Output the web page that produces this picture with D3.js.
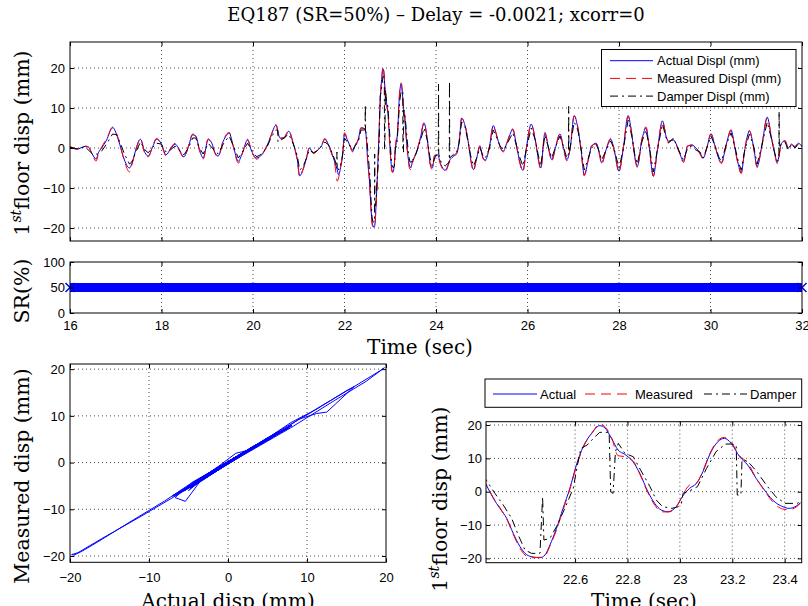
<!DOCTYPE html>
<html>
<head>
<meta charset="utf-8">
<script src="https://cdn.jsdelivr.net/npm/d3@7"></script>
<style>
  body { margin: 0; background: #fff; }
  svg { display: block; }
</style>
</head>
<body>
<div id="chart"></div>
<script>
// time (s) of the readings for the actual and measured displacement (mm)
const timeSec = [
  16.00, 16.15, 16.33, 16.40, 16.51, 16.57, 16.62, 16.69, 16.80, 16.93,
  17.02, 17.09, 17.19, 17.30, 17.35, 17.44, 17.54, 17.64, 17.71, 17.81,
  17.89, 17.99, 18.10, 18.19, 18.30, 18.37, 18.49, 18.59, 18.68, 18.75,
  18.83, 18.91, 19.02, 19.10, 19.17, 19.24, 19.35, 19.48, 19.57, 19.68,
  19.77, 19.88, 19.97, 20.08, 20.19, 20.30, 20.39, 20.50, 20.59, 20.68,
  20.78, 20.88, 20.97, 21.02, 21.09, 21.17, 21.23, 21.32, 21.43, 21.50,
  21.57, 21.65, 21.72, 21.79, 21.84, 21.87, 21.92, 21.96, 22.00, 22.06,
  22.12, 22.18, 22.23, 22.30, 22.36, 22.45, 22.48, 22.50, 22.52, 22.545,
  22.566, 22.587, 22.603, 22.624, 22.65, 22.666, 22.682, 22.703, 22.725, 22.746,
  22.767, 22.788, 22.815, 22.84, 22.857, 22.878, 22.90, 22.92, 22.947, 22.968,
  22.995, 23.016, 23.037, 23.058, 23.085, 23.106, 23.127, 23.148, 23.17, 23.19,
  23.217, 23.238, 23.26, 23.286, 23.313, 23.34, 23.366, 23.392, 23.424, 23.445,
  23.466, 23.50, 23.56, 23.65, 23.74, 23.82, 23.87, 23.92, 23.97, 24.03,
  24.11, 24.20, 24.31, 24.39, 24.45, 24.51, 24.56, 24.63, 24.71, 24.76,
  24.82, 24.89, 24.96, 25.03, 25.08, 25.17, 25.25, 25.33, 25.40, 25.47,
  25.55, 25.68, 25.75, 25.82, 25.90, 25.98, 26.08, 26.17, 26.24, 26.29,
  26.38, 26.46, 26.53, 26.62, 26.71, 26.78, 26.86, 26.93, 27.02, 27.10,
  27.17, 27.24, 27.33, 27.40, 27.50, 27.57, 27.62, 27.72, 27.82, 27.90,
  28.00, 28.09, 28.20, 28.28, 28.35, 28.40, 28.50, 28.59, 28.66, 28.75,
  28.84, 28.95, 29.03, 29.08, 29.19, 29.30, 29.41, 29.50, 29.59, 29.68,
  29.77, 29.84, 29.92, 30.01, 30.10, 30.19, 30.24, 30.35, 30.45, 30.54,
  30.61, 30.67, 30.75, 30.85, 30.94, 31.02, 31.12, 31.24, 31.34, 31.41,
  31.46, 31.55, 31.63, 31.70, 31.77, 31.85, 31.92, 32.00
]

const actualDispl = [
  0.3, -0.3, 0.4, 0.2, -2, -2.8, -1.2, 0, 2, 5.2,
  3.3, 0.8, -3, -5, -4, -0.4, 2.2, -1.2, -2, 0.4,
  2.2, 1.2, -1.7, -0.4, 1, 0, -2.2, 0.4, 3.3, 3,
  -0.4, -2.5, 2.1, 1.2, -1.2, -2, 1.7, 3.7, 0.4, -3.3,
  -1.2, 2, -0.8, -2.5, -1.7, 0.4, 2.9, 5.7, 2.5, 2.5,
  4.2, 1.2, -3, -7, -5.4, -2.5, 0, -1.2, -0.4, 0.6,
  2.2, 0.8, -1.2, -3.6, -5.4, -6.7, -4.6, -1.7, 3.6, 2.1,
  0.6, -0.8, 0.6, 2, 5, 4.6, 2, -2, -5, -8,
  -12.5, -16.5, -18.5, -19.5, -19.8, -19, -16, -11, -5, 1,
  8, 13.5, 17.5, 19.8, 19.2, 16, 12.5, 11.2, 9, 5.5,
  0, -3.5, -5.5, -6, -4.5, -1.2, 1, 2.5, 6, 11,
  15, 16, 14.5, 10.5, 8, 4, 0.5, -2.5, -4.5, -5,
  -4.3, -3, -1.5, 2, 6.2, 1.2, -3.7, -5, -2, -1.7,
  -4.2, -5.6, -2.9, -2, -1.5, 2, 7.5, 5.8, 1.2, -2.9,
  -5.4, -2.5, 0.4, -2.5, -3, 0.4, 5.6, 2.9, 0.4, -0.8,
  1.2, 4.6, 1.2, -2.9, -5.6, 0.4, 6, 2, -2.9, -5,
  3.7, 0, -2.9, 0.4, 3.5, 0.4, -2.9, -0.4, 8.1, 5,
  -0.4, -6.7, -2.9, 0.4, 1.2, -1.2, -3.7, -0.4, 2.2, -0.8,
  -5.8, -0.4, 8.1, 3.3, -2.5, -4.6, 2, 5, 0.4, -7,
  -0.4, 6.8, 2.9, 1.7, 2, -0.4, -3.3, 0.4, 0.8, 0,
  -1.2, -2.5, 0, 3.6, 0.4, -2.9, -3.6, 1.2, 4.4, -0.4,
  -4.2, -6.2, -0.4, 4.2, 0.4, -4.6, 0.4, 7.7, 2, -1.7,
  -3.6, 1.2, 1.7, 0, 0.8, 0.4, 1.2, 0.3
]

const measuredDispl = [
  0.4, -0.2, 0.5, 0.3, -2.3, -3.3, -1.5, 0.2, 2.3, 5.0,
  3.6, 0.9, -3.3, -6, -4.3, -0.3, 2.3, -1.6, -2.2, 0.6,
  2.4, 1.0, -2.0, -0.2, 1.2, -0.2, -2.4, 0.5, 3.5, 2.8,
  -0.6, -2.8, 2.3, 1.0, -1.4, -2.2, 1.9, 3.9, 0.3, -3.8,
  -1.3, 2.2, -0.9, -2.8, -1.8, 0.6, 3.0, 5.9, 2.3, 2.7,
  4.3, 1.0, -3.3, -7.2, -5.6, -2.4, 0.1, -1.4, -0.3, 0.8,
  2.4, 0.6, -1.5, -4.2, -8.3, -7.5, -4.3, -1.5, 3.8, 2.2,
  0.5, -1.0, 0.7, 2.2, 5.1, 4.8, 2.2, -1.8, -4.8, -8.2,
  -12.8, -17, -19, -19.8, -19.7, -19.3, -16.3, -11.5, -5.5, 0.7,
  7.5, 13.3, 17.4, 20.3, 19.6, 16.3, 10.8, 10.5, 9.3, 5.3,
  -0.3, -4, -6, -6.1, -4.6, -0.8, 2, 2.6, 6.3, 11.2,
  15.4, 16.3, 14.8, 10.8, 8.6, 4.1, 0.3, -3, -5.2, -5.4,
  -4.6, -3.2, -1.3, 2.2, 6.4, 0.9, -4, -5.4, -1.8, -1.9,
  -4.5, -5.9, -3.1, -1.8, -1.2, 2.2, 7.3, 6.0, 1.0, -3.1,
  -5.8, -2.3, 0.6, -2.7, -3.2, 0.6, 5.4, 3.1, 0.2, -1.0,
  1.4, 4.8, 1.0, -3.2, -5.9, 0.2, 5.8, 2.2, -3.2, -5.3,
  3.9, -0.2, -3.3, 0.6, 3.7, 0.2, -3.2, -0.2, 8.0, 5.3,
  -0.6, -7.0, -2.7, 0.6, 1.0, -1.5, -4.1, -0.2, 2.4, -1.0,
  -6.1, -0.2, 7.9, 3.6, -2.7, -4.9, 2.2, 5.3, 0.2, -7.1,
  -0.6, 6.6, 3.1, 1.5, 2.2, -0.6, -3.6, 0.6, 0.6, 0.2,
  -1.5, -2.8, 0.2, 3.4, 0.6, -3.1, -3.9, 1.0, 4.6, -0.6,
  -4.4, -6.4, -0.2, 4.4, 0.2, -4.9, 0.6, 7.4, 2.3, -1.9,
  -3.9, 1.0, 1.9, -0.2, 1.0, 0.2, 1.4, 0.5
]

// damper readings have their own time stamps (spikes included)
const damperTime = [
  16.00, 16.15, 16.33, 16.51, 16.60, 16.69, 16.80, 16.93, 17.02, 17.09,
  17.19, 17.30, 17.35, 17.44, 17.54, 17.64, 17.71, 17.81, 17.89, 17.99,
  18.10, 18.19, 18.30, 18.49, 18.59, 18.68, 18.75, 18.83, 18.91, 19.02,
  19.17, 19.24, 19.35, 19.48, 19.57, 19.68, 19.77, 19.88, 19.97, 20.08,
  20.19, 20.30, 20.39, 20.50, 20.54, 20.545, 20.59, 20.68, 20.78, 20.88,
  20.97, 21.02, 21.09, 21.17, 21.23, 21.32, 21.43, 21.57, 21.65, 21.72,
  21.79, 21.83, 21.835, 21.84, 21.87, 21.92, 21.96, 22.00, 22.06, 22.12,
  22.18, 22.23, 22.30, 22.36, 22.45, 22.455, 22.46, 22.48, 22.508, 22.534,
  22.56, 22.58, 22.603, 22.624, 22.655, 22.66, 22.665, 22.682, 22.703, 22.73,
  22.756, 22.77, 22.78, 22.80, 22.82, 22.84, 22.87, 22.875, 22.882, 22.89,
  22.90, 22.92, 22.947, 22.97, 23.00, 23.02, 23.04, 23.07, 23.09, 23.10,
  23.105, 23.13, 23.15, 23.18, 23.21, 23.24, 23.26, 23.275, 23.278, 23.29,
  23.293, 23.31, 23.34, 23.37, 23.40, 23.43, 23.47, 23.48, 23.50, 23.56,
  23.65, 23.74, 23.82, 23.87, 23.92, 23.97, 24.03, 24.05, 24.055, 24.06,
  24.11, 24.20, 24.29, 24.295, 24.30, 24.39, 24.45, 24.51, 24.56, 24.63,
  24.71, 24.76, 24.82, 24.89, 24.96, 25.03, 25.08, 25.17, 25.25, 25.33,
  25.40, 25.47, 25.55, 25.68, 25.75, 25.82, 25.90, 25.98, 26.08, 26.17,
  26.24, 26.29, 26.38, 26.46, 26.53, 26.62, 26.71, 26.78, 26.86, 26.895,
  26.90, 26.905, 26.93, 27.02, 27.10, 27.17, 27.24, 27.33, 27.40, 27.50,
  27.57, 27.62, 27.72, 27.82, 27.90, 28.00, 28.09, 28.20, 28.28, 28.35,
  28.40, 28.50, 28.59, 28.66, 28.75, 28.84, 28.95, 29.03, 29.08, 29.19,
  29.30, 29.41, 29.50, 29.59, 29.68, 29.77, 29.84, 29.92, 30.01, 30.10,
  30.19, 30.24, 30.35, 30.45, 30.54, 30.61, 30.67, 30.75, 30.85, 30.94,
  31.02, 31.12, 31.24, 31.34, 31.41, 31.46, 31.495, 31.50, 31.505, 31.55,
  31.63, 31.70, 31.77, 31.85, 31.92, 32.00
]

const damperDispl = [
  0.2, -0.2, 0.3, -1.7, -1.5, -0.8, 1, 3.5, 3.3, 1.5,
  -1.5, -4, -3.5, -1, 1.5, -0.5, -1.2, 0.2, 1.2, 1,
  -1, -0.5, 0.5, -1.7, 0, 2.5, 2.5, 0, -1.5, 1.2,
  -0.8, -1.5, 1, 3, 0.5, -2.5, -1, 1.2, -0.5, -2.2,
  -1.5, 0, 2.5, 4.5, 4.5, 1.5, 1.8, 2.5, 3.5, 1,
  -2, -5.5, -4.8, -2.5, -0.5, -1.2, -0.5, 1.5, 0.8, -1,
  -3, -4.5, -1, -4.8, -5.5, -4, -1.5, 2.5, 1.5, 0.5,
  -0.5, 0.5, 1.5, 4.5, 4.5, 10.8, 4.2, 3.5, -0.5, -4,
  -8, -13, -17.5, -18.5, -18.5, -1.5, -14.5, -14, -10.5, -5,
  1, 8, 13, 14, 16, 17.8, 17.8, 0, -0.5, 12,
  14.5, 11.5, 10.5, 6.5, 1.5, -2.5, -4.5, -5, -4.5, -3.5,
  -0.5, 0.5, 1.5, 7, 12, 14.3, 14.3, 14, -1, -1,
  9.5, 9.2, 6, 2, -1.5, -3.5, -3.5, -2.5, -3, -1.5,
  1.5, 5, 1.5, -2.5, -4.5, -2.5, -1.5, -1, 16, -1.5,
  -3.5, -4.5, -3.5, 16.7, -2.5, -1.5, -1.2, 1.5, 6.5, 5.5,
  1, -2, -4.5, -2.5, 0, -2, -2.5, 0, 4.5, 2.5,
  0.5, -0.5, 1, 3.8, 1, -2, -4.5, 0, 5, 2,
  -2, -4.5, 3.2, 0, -2.5, 0.5, 3, 0.5, -2.5, -1.5,
  10.4, -1, 0, 6.5, 4.5, 0, -5.5, -2.5, 0, 1,
  -1, -3, -0.5, 1.8, -0.5, -5, -0.5, 7, 3, -2,
  -4, 1.5, 4.5, 0.5, -6, -0.5, 6, 2.5, 1.2, 2.5,
  -0.5, -3, 0, 0.5, -0.5, -1, -2.5, 0, 3, 0.5,
  -2.5, -3.2, 1, 3.8, 0, -3.5, -5.5, -0.5, 3.5, 0.5,
  -4, 0.5, 6.5, 2, -1.5, -3.2, -2, 9.2, 0, 1,
  1.5, -0.5, 1, 0, 1, 0.5
]

// readings of the zoomed panel (its own time axis)
const zoomTime = [
  22.245, 22.261, 22.288, 22.313, 22.339, 22.364, 22.390, 22.409, 22.434, 22.466,
  22.485, 22.504, 22.529, 22.554, 22.580, 22.605, 22.631, 22.663, 22.694, 22.713,
  22.739, 22.764, 22.790, 22.821, 22.847, 22.878, 22.904, 22.929, 22.955, 22.986,
  23.012, 23.037, 23.063, 23.088, 23.113, 23.145, 23.170, 23.196, 23.228, 23.259,
  23.291, 23.323, 23.354, 23.393, 23.418, 23.444, 23.460
]
const zoomActual = [
  4, 2, -2, -5, -8, -12.5, -16.5, -18.5, -19.5, -19.8,
  -19, -16, -11, -5, 1, 8, 13.5, 17.5, 19.8, 19.2,
  16, 12.5, 11.2, 9, 5.5, 0, -3.5, -5.5, -6, -4.5,
  -1.2, 1, 2.5, 6, 11, 15, 16, 14.5, 10.5, 8,
  4, 0.5, -2.5, -4.5, -5, -4.3, -3.3
]
const zoomMeasured = [
  4.2, 2.2, -1.8, -4.8, -8.2, -12.8, -17, -19, -19.8, -19.7,
  -19.3, -16.3, -11.5, -5.5, 0.7, 7.5, 13.3, 17.4, 20.3, 19.6,
  16.3, 10.8, 10.5, 9.3, 5.3, -0.3, -4, -6, -6.1, -4.6,
  -0.8, 2, 2.6, 6.3, 11.2, 15.4, 16.3, 14.8, 10.8, 8.6,
  4.1, 0.3, -3, -5.2, -5.4, -4.6, -3.5
]
const zoomDamperTime = [
  22.245, 22.261, 22.294, 22.326, 22.358, 22.383, 22.409, 22.434, 22.466, 22.476,
  22.481, 22.504, 22.529, 22.561, 22.593, 22.609, 22.622, 22.646, 22.670, 22.694,
  22.730, 22.736, 22.745, 22.754, 22.765, 22.790, 22.822, 22.850, 22.886, 22.910,
  22.934, 22.970, 22.994, 23.006, 23.012, 23.043, 23.067, 23.102, 23.138, 23.174,
  23.198, 23.215, 23.219, 23.233, 23.237, 23.258, 23.294, 23.330, 23.366, 23.401,
  23.449, 23.460
]
const zoomDamper = [
  5, 3.5, -0.5, -4, -8, -13, -17.5, -18.5, -18.5, -1.5,
  -14.5, -14, -10.5, -5, 1, 8, 13, 14, 16, 17.8,
  17.8, 0, -0.5, 12, 14.5, 11.5, 10.5, 6.5, 1.5, -2.5,
  -4.5, -5, -4.5, -3.5, -0.5, 0.5, 1.5, 7, 12, 14.3,
  14.3, 14, -1, -1, 9.5, 9.2, 6, 2, -1.5, -3.5,
  -3.5, -2.5
]

const srTime = [16, 32]
const srPercent = [50, 50]

const timeTicks = [16, 18, 20, 22, 24, 26, 28, 30, 32]
const dispTicks = [-20, -10, 0, 10, 20]
const srTicks = [0, 50, 100]
const zoomTimeTicks = [22.6, 22.8, 23, 23.2, 23.4]
const legendLong = ['Actual Displ (mm)', 'Measured Displ (mm)', 'Damper Displ (mm)']
const legendShort = ['Actual', 'Measured', 'Damper']

const SANS = "'Liberation Sans', Arial, Helvetica, sans-serif"
const SERIF = "'DejaVu Serif', 'Liberation Serif', serif"
const styles = [
  { color: '#0000ff', dash: null },
  { color: '#ff0000', dash: '10,6' },
  { color: '#000000', dash: '8,4,2,4' }
]

const svg = d3.select('#chart').append('svg').attr('width', 808).attr('height', 606)

function makePanel(id, box, xDomain, yDomain) {
  const x = d3.scaleLinear().domain(xDomain).range([box.left, box.right])
  const y = d3.scaleLinear().domain(yDomain).range([box.bottom, box.top])
  svg.append('clipPath').attr('id', id).append('rect')
    .attr('x', box.left).attr('y', box.top)
    .attr('width', box.right - box.left).attr('height', box.bottom - box.top)
  return { id, box, x, y }
}

function drawGrid(p, xTicks, yTicks) {
  const { box, x, y } = p
  const g = svg.append('g')
    .attr('stroke', '#000').attr('stroke-width', 0.7).attr('stroke-dasharray', '1,3')
  g.selectAll('.gx')
    .data(xTicks.filter(t => x(t) > box.left + 1 && x(t) < box.right - 1))
    .join('line')
    .attr('x1', d => x(d)).attr('x2', d => x(d))
    .attr('y1', box.top).attr('y2', box.bottom)
  g.selectAll('.gy')
    .data(yTicks.filter(t => y(t) > box.top + 1 && y(t) < box.bottom - 1))
    .join('line')
    .attr('x1', box.left).attr('x2', box.right)
    .attr('y1', d => y(d)).attr('y2', d => y(d))
}

function drawAxes(p, xTicks, yTicks, opts) {
  const { box, x, y } = p
  const g = svg.append('g')
  const fmt = d3.format('')
  g.append('g').attr('transform', `translate(0,${box.bottom})`)
    .call(d3.axisBottom(x).tickValues(xTicks).tickSize(-4).tickPadding(opts.xPad || 8)
      .tickFormat(opts.xLabels ? fmt : ''))
  g.append('g').attr('transform', `translate(0,${box.top})`)
    .call(d3.axisTop(x).tickValues(xTicks).tickSize(-4).tickFormat(''))
  g.append('g').attr('transform', `translate(${box.left},0)`)
    .call(d3.axisLeft(y).tickValues(yTicks).tickSize(-4).tickPadding(opts.yPad || 5).tickFormat(fmt))
  g.append('g').attr('transform', `translate(${box.right},0)`)
    .call(d3.axisRight(y).tickValues(yTicks).tickSize(-4).tickFormat(''))
  g.selectAll('.domain').remove()
  g.selectAll('.tick line').attr('stroke', '#000')
  g.selectAll('text')
    .attr('font-family', SANS).attr('font-size', 13).attr('fill', '#000')
  g.append('rect')
    .attr('x', box.left).attr('y', box.top)
    .attr('width', box.right - box.left).attr('height', box.bottom - box.top)
    .attr('fill', 'none').attr('stroke', '#000').attr('stroke-width', 1)
}

function drawSeries(p, times, values, style, curve) {
  const line = d3.line()
    .x((d, i) => p.x(times[i]))
    .y(d => p.y(d))
    .curve(curve)
  svg.append('path')
    .attr('clip-path', `url(#${p.id})`)
    .attr('d', line(values))
    .attr('fill', 'none')
    .attr('stroke', style.color)
    .attr('stroke-width', 1)
    .attr('stroke-dasharray', style.dash)
}

function yLabel(x, y, parts) {
  const t = svg.append('text')
    .attr('transform', `translate(${x},${y}) rotate(-90)`)
    .attr('text-anchor', 'middle')
    .attr('font-family', SERIF).attr('font-size', 20.5).attr('fill', '#000')
  parts.forEach(([s, sup], i) => {
    const span = t.append('tspan').text(s)
    if (sup) span.attr('font-size', 14).attr('font-style', 'italic').attr('dy', -8)
    else if (i > 0) span.attr('dy', 8)
  })
}

function xLabel(x, y, s) {
  svg.append('text')
    .attr('x', x).attr('y', y)
    .attr('text-anchor', 'middle')
    .attr('font-family', SERIF).attr('font-size', 20).attr('fill', '#000')
    .text(s)
}

function legend(box, items, layout) {
  svg.append('rect')
    .attr('x', box.left).attr('y', box.top)
    .attr('width', box.right - box.left).attr('height', box.bottom - box.top)
    .attr('fill', '#fff').attr('stroke', '#000').attr('stroke-width', 1)
  items.forEach((label, i) => {
    const { x0, x1, tx, ty } = layout(i)
    svg.append('line')
      .attr('x1', x0).attr('x2', x1).attr('y1', ty).attr('y2', ty)
      .attr('stroke', styles[i].color).attr('stroke-width', 1)
      .attr('stroke-dasharray', styles[i].dash)
    svg.append('text')
      .attr('x', tx).attr('y', ty).attr('dy', '0.35em')
      .attr('font-family', SANS).attr('font-size', 13).attr('fill', '#000')
      .text(label)
  })
}

// title
svg.append('text')
  .attr('x', 436).attr('y', 21)
  .attr('text-anchor', 'middle')
  .attr('font-family', SERIF).attr('font-size', 18).attr('fill', '#000')
  .text('EQ187 (SR=50%) \u2013 Delay = -0.0021; xcorr=0')

// top: displacement time histories
const histPanel = makePanel('clip-top', { left: 70, right: 802, top: 42, bottom: 241 }, [16, 32], [-23.25, 26.5])
drawGrid(histPanel, timeTicks, dispTicks)
drawSeries(histPanel, timeSec, actualDispl, styles[0], d3.curveMonotoneX)
drawSeries(histPanel, timeSec, measuredDispl, styles[1], d3.curveMonotoneX)
drawSeries(histPanel, damperTime, damperDispl, styles[2], d3.curveLinear)
drawAxes(histPanel, timeTicks, dispTicks, { xLabels: false })
legend({ left: 601.5, right: 796, top: 49.5, bottom: 106.5 }, legendLong, i => ({
  x0: 610, x1: 653, tx: 657, ty: 60.7 + i * 17.7
}))
yLabel(29, 143, [['1', false], ['st', true], ['floor disp (mm)', false]])

// SR band
const srPanel = makePanel('clip-sr', { left: 70, right: 802, top: 262, bottom: 313 }, [16, 32], [0, 100])
drawGrid(srPanel, timeTicks, srTicks)
svg.append('path')
  .attr('d', d3.line().x((d, i) => srPanel.x(srTime[i])).y(d => srPanel.y(d))(srPercent))
  .attr('stroke', '#0000ff').attr('stroke-width', 9).attr('fill', 'none')
svg.append('g').selectAll('path')
  .data(srPercent)
  .join('path')
  .attr('d', (d, i) => {
    const cx = srPanel.x(srTime[i]), cy = srPanel.y(d), r = 4.5
    return `M${cx - r},${cy - r}L${cx + r},${cy + r}M${cx - r},${cy + r}L${cx + r},${cy - r}`
  })
  .attr('stroke', '#0000ff').attr('stroke-width', 1.5)
drawAxes(srPanel, timeTicks, srTicks, { xLabels: true, xPad: 8 })
yLabel(29, 291, [['SR(%)', false]])
xLabel(420, 354, 'Time (sec)')

// bottom left: measured vs actual
const loopPanel = makePanel('clip-bl', { left: 70, right: 386, top: 364, bottom: 562.3 }, [-20, 20], [-21.35, 21.1])
drawGrid(loopPanel, dispTicks, dispTicks)
svg.append('path')
  .attr('clip-path', 'url(#clip-bl)')
  .attr('d', d3.line().x((d, i) => loopPanel.x(actualDispl[i])).y(d => loopPanel.y(d))(measuredDispl))
  .attr('fill', 'none').attr('stroke', '#0000ff').attr('stroke-width', 1)
drawAxes(loopPanel, dispTicks, dispTicks, { xLabels: true, xPad: 10 })
yLabel(29, 476, [['Measured disp (mm)', false]])
xLabel(228, 608, 'Actual disp (mm)')

// bottom right: zoom on the largest cycle
const zoomPanel = makePanel('clip-br', { left: 486, right: 801.7, top: 421.7, bottom: 562.7 }, [22.26, 23.465], [-21.3, 21])
drawGrid(zoomPanel, zoomTimeTicks, dispTicks)
drawSeries(zoomPanel, zoomTime, zoomActual, styles[0], d3.curveMonotoneX)
drawSeries(zoomPanel, zoomTime, zoomMeasured, styles[1], d3.curveMonotoneX)
drawSeries(zoomPanel, zoomDamperTime, zoomDamper, styles[2], d3.curveLinear)
drawAxes(zoomPanel, zoomTimeTicks, dispTicks, { xLabels: true, xPad: 12, yPad: 4 })
legend({ left: 485, right: 801.7, top: 379, bottom: 407.3 }, legendShort, i => [
  { x0: 493, x1: 537, tx: 540, ty: 394 },
  { x0: 585, x1: 630, tx: 635, ty: 394 },
  { x0: 704, x1: 747, tx: 750, ty: 394 }
][i])
yLabel(447, 499, [['1', false], ['st', true], ['floor disp (mm)', false]])
xLabel(644, 608, 'Time (sec)')
</script>
</body>
</html>
